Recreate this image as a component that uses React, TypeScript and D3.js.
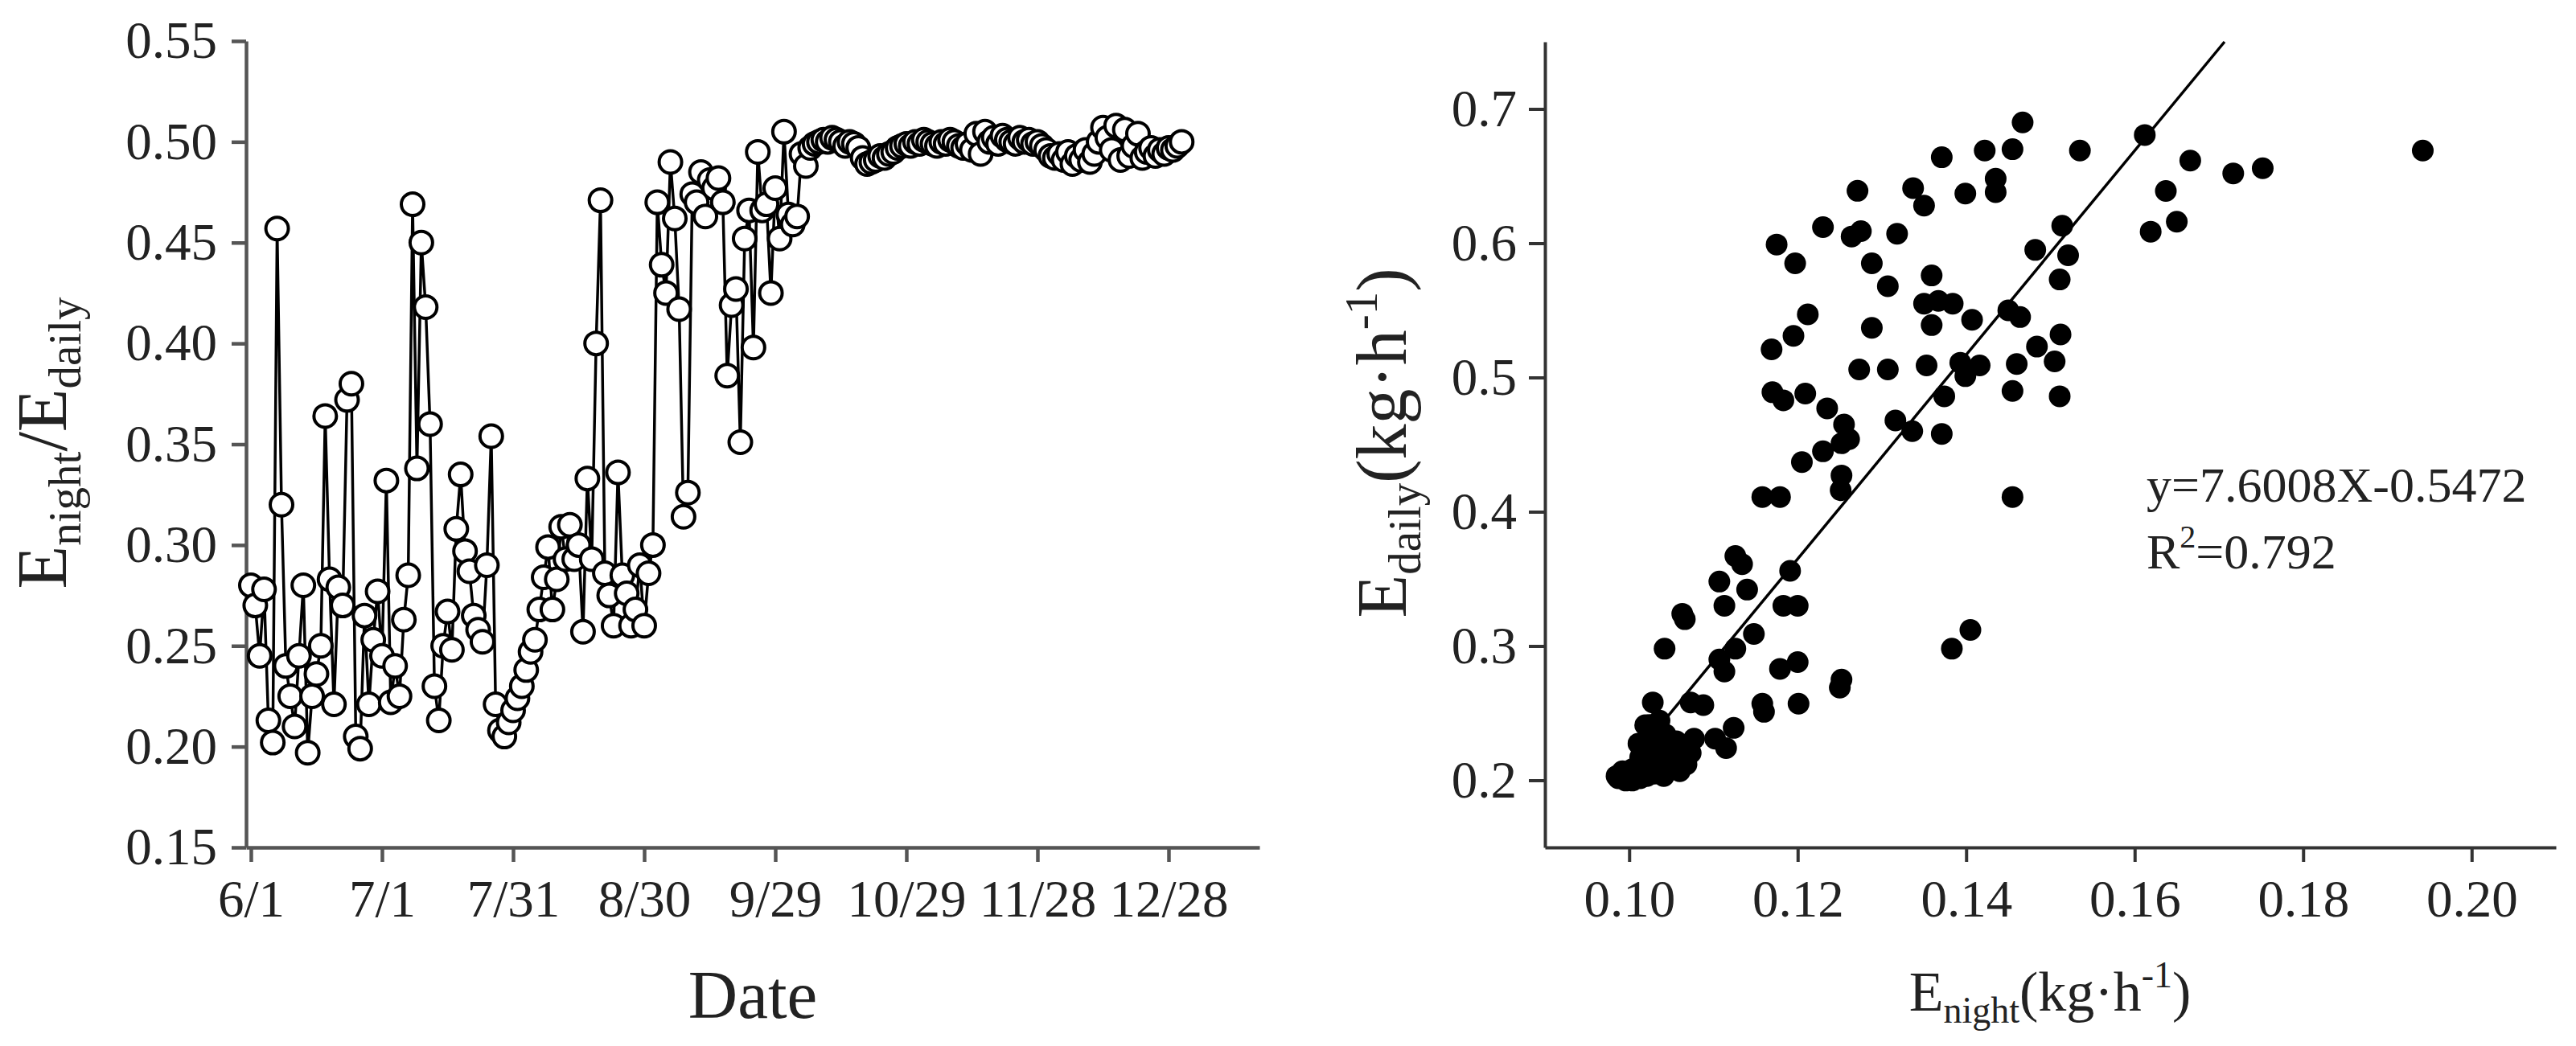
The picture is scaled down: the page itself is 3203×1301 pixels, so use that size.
import React, { useEffect, useRef } from 'react';
import * as d3 from 'd3';

// daily E_night / E_daily ratio, one value per day starting 6/1
const ratioValues = [
  0.280, 0.270, 0.245, 0.278, 0.213, 0.202, 0.457, 0.320, 0.240, 0.225,
  0.210, 0.245, 0.280, 0.197, 0.225, 0.236, 0.250, 0.364, 0.283, 0.221,
  0.279, 0.270, 0.372, 0.380, 0.205, 0.199, 0.265, 0.221, 0.253, 0.277,
  0.245, 0.332, 0.222, 0.240, 0.225, 0.263, 0.285, 0.469, 0.338, 0.450,
  0.418, 0.360, 0.230, 0.213, 0.250, 0.267, 0.248, 0.308, 0.335, 0.297,
  0.287, 0.265, 0.258, 0.252, 0.290, 0.354, 0.221, 0.208, 0.205, 0.212,
  0.218, 0.224, 0.230, 0.238, 0.247, 0.253, 0.268, 0.284, 0.299, 0.268,
  0.283, 0.309, 0.293, 0.310, 0.293, 0.300, 0.257, 0.333, 0.293, 0.400,
  0.471, 0.286, 0.275, 0.260, 0.336, 0.285, 0.276, 0.260, 0.268, 0.290,
  0.260, 0.286, 0.300, 0.470, 0.439, 0.425, 0.490, 0.462, 0.417, 0.314,
  0.326, 0.474, 0.470, 0.485, 0.463, 0.481, 0.477, 0.482, 0.470, 0.384,
  0.419, 0.427, 0.351, 0.452, 0.466, 0.398, 0.495, 0.466, 0.469, 0.425,
  0.477, 0.452, 0.505, 0.464, 0.459, 0.463, 0.494, 0.488, 0.497, 0.499,
  0.500, 0.501, 0.500, 0.502, 0.501, 0.500, 0.498, 0.500, 0.499, 0.497,
  0.492, 0.489, 0.490, 0.491, 0.493, 0.492, 0.494, 0.495, 0.497, 0.498,
  0.499, 0.498, 0.500, 0.499, 0.501, 0.500, 0.499, 0.498, 0.500, 0.499,
  0.501, 0.500, 0.498, 0.497, 0.499, 0.496, 0.504, 0.494, 0.505, 0.500,
  0.502, 0.499, 0.503, 0.501, 0.500, 0.499, 0.502, 0.500, 0.501, 0.499,
  0.500, 0.498, 0.496, 0.493, 0.492, 0.494, 0.491, 0.495, 0.489, 0.493,
  0.491, 0.496, 0.490, 0.494, 0.500, 0.507, 0.502, 0.496, 0.508, 0.491,
  0.506, 0.493, 0.498, 0.504, 0.492, 0.495, 0.497, 0.493, 0.496, 0.494,
  0.497, 0.496, 0.498, 0.500,
];

const dateTickDays = [0, 30, 60, 90, 120, 150, 180, 210];
const dateTickLabels = ['6/1', '7/1', '7/31', '8/30', '9/29', '10/29', '11/28', '12/28'];
const ratioTicks = [0.15, 0.2, 0.25, 0.3, 0.35, 0.4, 0.45, 0.5, 0.55];

// scatter: E_night vs E_daily (kg/h)
const nightE = [
  0.1467, 0.1371, 0.1422, 0.1455, 0.1535, 0.1271, 0.1337, 0.1350, 0.1399, 0.1435,
  0.1435, 0.1230, 0.1264, 0.1275, 0.1318, 0.1175, 0.1197, 0.1288, 0.1307, 0.1359,
  0.1514, 0.1482, 0.1521, 0.1511, 0.1350, 0.1367, 0.1384, 0.1359, 0.1407, 0.1450,
  0.1464, 0.1212, 0.1195, 0.1169, 0.1288, 0.1512, 0.1484, 0.1505, 0.1273, 0.1307,
  0.1353, 0.1393, 0.1416, 0.1399, 0.1460, 0.1374, 0.1455, 0.1511, 0.1170, 0.1183,
  0.1209, 0.1235, 0.1255, 0.1261, 0.1252, 0.1230, 0.1205, 0.1252, 0.1251, 0.1316,
  0.1336, 0.1371, 0.1158, 0.1179, 0.1455, 0.1126, 0.1134, 0.1191, 0.1107, 0.1140,
  0.1113, 0.1183, 0.1200, 0.1063, 0.1066, 0.1148, 0.1042, 0.1126, 0.1107, 0.1113,
  0.1179, 0.1200, 0.1405, 0.1383, 0.1252, 0.1250, 0.1028, 0.1073, 0.1088, 0.1158,
  0.1160, 0.1201, 0.1124, 0.1115, 0.1102, 0.1077, 0.1019,
  0.0987, 0.0996, 0.1004, 0.1013, 0.1021, 0.1030, 0.1039, 0.1047, 0.1056, 0.1064,
  0.1073, 0.1013, 0.1026, 0.1034, 0.1043, 0.1017, 0.1032, 0.1051, 0.1068, 0.1036,
  0.1024, 0.1056, 0.1004, 0.0992, 0.1043, 0.1028, 0.1011, 0.1060, 0.1041, 0.0985,
  0.1612, 0.1666, 0.1717, 0.1752, 0.1942, 0.1637, 0.1650, 0.1619,
];
const dailyE = [
  0.690, 0.664, 0.669, 0.670, 0.669, 0.639, 0.641, 0.628, 0.637, 0.648,
  0.638, 0.612, 0.605, 0.609, 0.607, 0.599, 0.585, 0.585, 0.568, 0.576,
  0.613, 0.595, 0.591, 0.573, 0.555, 0.557, 0.555, 0.539, 0.543, 0.550,
  0.545, 0.547, 0.531, 0.521, 0.537, 0.532, 0.523, 0.512, 0.506, 0.506,
  0.509, 0.511, 0.509, 0.501, 0.510, 0.486, 0.490, 0.486, 0.489, 0.483,
  0.488, 0.477, 0.465, 0.454, 0.451, 0.445, 0.437, 0.427, 0.416, 0.468,
  0.460, 0.458, 0.411, 0.411, 0.411, 0.367, 0.361, 0.356, 0.348, 0.342,
  0.330, 0.330, 0.330, 0.324, 0.320, 0.309, 0.298, 0.298, 0.290, 0.281,
  0.283, 0.288, 0.312, 0.298, 0.275, 0.269, 0.258, 0.258, 0.256, 0.257,
  0.251, 0.257, 0.239, 0.224, 0.231, 0.231, 0.241,
  0.2015, 0.1998, 0.1998, 0.2015, 0.2032, 0.2049, 0.2084, 0.2101, 0.2135, 0.2170,
  0.2204, 0.2170, 0.2239, 0.2273, 0.2342, 0.2118, 0.2153, 0.2239, 0.2118, 0.2445,
  0.2411, 0.2290, 0.2084, 0.2067, 0.2204, 0.2308, 0.2273, 0.2067, 0.2032, 0.2032,
  0.6806, 0.6615, 0.6520, 0.6558, 0.6690, 0.6389, 0.6160, 0.6086,
];
const nightTicks = [0.10, 0.12, 0.14, 0.16, 0.18, 0.20];
const dailyTicks = [0.2, 0.3, 0.4, 0.5, 0.6, 0.7];

const fitSlope = 7.6008;
const fitIntercept = -0.5472;

const FONT = "'Liberation Serif', 'Times New Roman', serif";

const App = () => {
  const svgRef = useRef(null);

  useEffect(() => {
    const svg = d3.select(svgRef.current);
    svg.selectAll('*').remove();

    // ---------- left: ratio time series ----------
    const xL = d3.scaleLinear().domain([-1.1, 230.8]).range([306, 1566]);
    const yL = d3.scaleLinear().domain([0.15, 0.55]).range([1054, 51]);

    const styleAxis = (g, color, width) => {
      g.select('.domain').attr('stroke', color).attr('stroke-width', width);
      g.selectAll('.tick line').attr('stroke', color).attr('stroke-width', width);
      g.selectAll('.tick text')
        .style('font-family', FONT)
        .style('font-size', '65px')
        .attr('fill', '#222');
    };

    const gxL = svg.append('g')
      .attr('transform', 'translate(0,1054)')
      .call(d3.axisBottom(xL)
        .tickValues(dateTickDays)
        .tickFormat((d, i) => dateTickLabels[i])
        .tickSize(18)
        .tickSizeOuter(0)
        .tickPadding(22));
    styleAxis(gxL, '#555', 4.5);

    const gyL = svg.append('g')
      .attr('transform', 'translate(306,0)')
      .call(d3.axisLeft(yL)
        .tickValues(ratioTicks)
        .tickFormat(d3.format('.2f'))
        .tickSize(18)
        .tickSizeOuter(0)
        .tickPadding(18));
    styleAxis(gyL, '#555', 4.5);

    const ratioData = ratioValues.map((v, i) => ({ day: i, value: v }));

    svg.append('path')
      .datum(ratioData)
      .attr('fill', 'none')
      .attr('stroke', '#000')
      .attr('stroke-width', 3.5)
      .attr('d', d3.line().x(d => xL(d.day)).y(d => yL(d.value)));

    svg.selectAll('.ratio-pt')
      .data(ratioData)
      .enter()
      .append('circle')
      .attr('class', 'ratio-pt')
      .attr('cx', d => xL(d.day))
      .attr('cy', d => yL(d.value))
      .attr('r', 14)
      .attr('fill', '#fff')
      .attr('stroke', '#000')
      .attr('stroke-width', 4);

    // y label E_night/E_daily
    const ylL = svg.append('text')
      .attr('transform', 'translate(82,551) rotate(-90)')
      .attr('text-anchor', 'middle')
      .style('font-family', FONT)
      .style('font-size', '88px')
      .attr('fill', '#222');
    ylL.append('tspan').text('E');
    ylL.append('tspan').attr('dy', 18).style('font-size', '57px').text('night');
    ylL.append('tspan').attr('dy', -18).text('/E');
    ylL.append('tspan').attr('dy', 18).style('font-size', '57px').text('daily');

    svg.append('text')
      .attr('x', 936)
      .attr('y', 1266)
      .attr('text-anchor', 'middle')
      .style('font-family', FONT)
      .style('font-size', '85px')
      .attr('fill', '#222')
      .text('Date');

    // ---------- right: scatter ----------
    const xR = d3.scaleLinear().domain([0.09, 0.21]).range([1921, 3178]);
    const yR = d3.scaleLinear().domain([0.15, 0.75]).range([1054, 52]);

    const gxR = svg.append('g')
      .attr('transform', 'translate(0,1054)')
      .call(d3.axisBottom(xR)
        .tickValues(nightTicks)
        .tickFormat(d3.format('.2f'))
        .tickSize(18)
        .tickSizeOuter(0)
        .tickPadding(22));
    styleAxis(gxR, '#333', 4);

    const gyR = svg.append('g')
      .attr('transform', 'translate(1921,0)')
      .call(d3.axisLeft(yR)
        .tickValues(dailyTicks)
        .tickFormat(d3.format('.1f'))
        .tickSize(20)
        .tickSizeOuter(0)
        .tickPadding(15));
    styleAxis(gyR, '#333', 4);

    const scatter = nightE.map((n, i) => ({ night: n, daily: dailyE[i] }));

    svg.selectAll('.dot')
      .data(scatter)
      .enter()
      .append('circle')
      .attr('class', 'dot')
      .attr('cx', d => xR(d.night))
      .attr('cy', d => yR(d.daily))
      .attr('r', 13.5)
      .attr('fill', '#000');

    // regression line, drawn up to the top of the plot
    const fitX0 = 0.0985;
    const fitX1 = (0.75 - fitIntercept) / fitSlope;
    svg.append('line')
      .attr('x1', xR(fitX0))
      .attr('y1', yR(fitSlope * fitX0 + fitIntercept))
      .attr('x2', xR(fitX1))
      .attr('y2', yR(fitSlope * fitX1 + fitIntercept))
      .attr('stroke', '#000')
      .attr('stroke-width', 3.5);

    svg.append('text')
      .attr('x', 2669)
      .attr('y', 624)
      .style('font-family', FONT)
      .style('font-size', '62px')
      .attr('fill', '#222')
      .text(`y=${fitSlope}X${fitIntercept}`);

    const r2 = svg.append('text')
      .attr('x', 2669)
      .attr('y', 707)
      .style('font-family', FONT)
      .style('font-size', '62px')
      .attr('fill', '#222');
    r2.append('tspan').text('R');
    r2.append('tspan').attr('dy', -26).style('font-size', '40px').text('2');
    r2.append('tspan').attr('dy', 26).text('=0.792');

    // y label E_daily(kg·h-1)
    const ylR = svg.append('text')
      .attr('transform', 'translate(1748,551) rotate(-90)')
      .attr('text-anchor', 'middle')
      .style('font-family', FONT)
      .style('font-size', '88px')
      .attr('fill', '#222');
    ylR.append('tspan').text('E');
    ylR.append('tspan').attr('dy', 18).style('font-size', '57px').text('daily');
    ylR.append('tspan').attr('dy', -18).text('(kg·h');
    ylR.append('tspan').attr('dy', -36).style('font-size', '57px').text('-1');
    ylR.append('tspan').attr('dy', 36).text(')');

    // x label E_night(kg·h-1)
    const xlR = svg.append('text')
      .attr('x', 2549)
      .attr('y', 1257)
      .attr('text-anchor', 'middle')
      .style('font-family', FONT)
      .style('font-size', '70px')
      .attr('fill', '#222');
    xlR.append('tspan').text('E');
    xlR.append('tspan').attr('dy', 15).style('font-size', '46px').text('night');
    xlR.append('tspan').attr('dy', -15).text('(kg·h');
    xlR.append('tspan').attr('dy', -29).style('font-size', '46px').text('-1');
    xlR.append('tspan').attr('dy', 29).text(')');
  }, []);

  return (
    <svg
      ref={svgRef}
      width={3203}
      height={1301}
      style={{ position: 'absolute', left: 0, top: 0, background: '#fff' }}
    />
  );
};

export default App;
